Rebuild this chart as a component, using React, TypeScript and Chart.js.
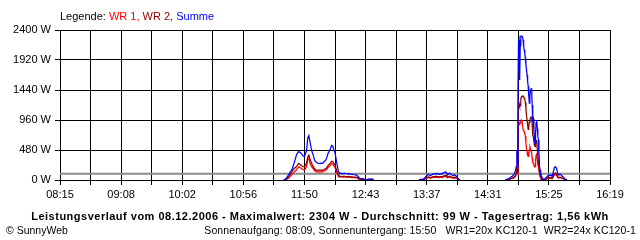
import React, { useEffect, useRef } from "react";
import { Chart, registerables } from "chart.js";

Chart.register(...registerables);

const FONT = '"Liberation Sans", Arial, sans-serif';

// x-axis tick labels (every second grid line carries a label)
const xTickLabels = ["08:15", "09:08", "10:02", "10:56", "11:50", "12:43", "13:37", "14:31", "15:25", "16:19"];
// y-axis ticks in W
const yTickValues = [0, 480, 960, 1440, 1920, 2400];
// daily average (Durchschnitt)
const average = 99;

// sample times
const times: string[] = [
  // morning hump
  "11:32", "11:33", "11:34", "11:35", "11:36", "11:37", "11:38", "11:39", "11:40", "11:41",
  "11:42", "11:43", "11:44", "11:45", "11:46", "11:47", "11:48", "11:49", "11:50", "11:51",
  "11:52", "11:53", "11:54", "11:55", "11:56", "11:57", "11:58", "11:59", "12:00", "12:01",
  "12:02", "12:03", "12:04", "12:05", "12:06", "12:07", "12:08", "12:09", "12:10", "12:11",
  "12:12", "12:13", "12:14", "12:15", "12:16", "12:17", "12:18", "12:19", "12:20", "12:21",
  "12:22", "12:23", "12:24", "12:25", "12:26", "12:27", "12:28", "12:29", "12:30", "12:31",
  "12:32", "12:33", "12:34", "12:35", "12:36", "12:37", "12:38", "12:39", "12:40", "12:41",
  "12:42", "12:43", "12:44", "12:45", "12:46", "12:47", "12:48", "12:49", "12:50", "12:51",
  "13:00",
  // early afternoon
  "13:31", "13:32", "13:33", "13:34", "13:35", "13:36", "13:37", "13:38", "13:39", "13:40",
  "13:41", "13:42", "13:43", "13:44", "13:45", "13:46", "13:47", "13:48", "13:49", "13:50",
  "13:51", "13:52", "13:53", "13:54", "13:55", "13:56", "13:57", "13:58", "13:59", "14:00",
  "14:01", "14:02", "14:03", "14:04", "14:05", "14:06", "14:07",
  "14:20",
  // afternoon peak
  "14:47", "14:48", "14:49", "14:50", "14:51", "14:52", "14:53", "14:54", "14:55",
  "14:56:00", "14:56:30", "14:57:00", "14:57:30", "14:58:00", "14:58:30", "14:59:00", "14:59:30",
  "15:00:00", "15:00:30", "15:01:00", "15:01:30", "15:02:00", "15:02:30", "15:03:00", "15:03:30",
  "15:04:00", "15:04:30", "15:05:00", "15:05:30", "15:06:00", "15:06:30", "15:07:00", "15:07:30",
  "15:08:00", "15:08:30", "15:09:00", "15:09:30", "15:10:00", "15:10:30", "15:11:00", "15:11:30",
  "15:12:00", "15:12:30", "15:13:00", "15:13:30", "15:14:00", "15:14:30", "15:15:00", "15:15:30",
  "15:16:00", "15:16:30", "15:17:00", "15:17:30", "15:18:00", "15:18:30", "15:19:00",
  "15:20", "15:21", "15:22", "15:23", "15:24", "15:25", "15:26", "15:27", "15:28", "15:29",
  "15:30", "15:31", "15:32", "15:33", "15:34", "15:35", "15:36", "15:37", "15:38", "15:39",
  "15:40", "15:41",
];

// WR 1 (W)
const wr1: (number | null)[] = [
  0, 0, 5, 15, 27, 45, 65, 85, 105, 125,
  145, 160, 185, 210, 200, 190, 175, 165, 160, 180,
  220, 330, 350, 270, 230, 200, 180, 150, 135, 130,
  135, 130, 125, 135, 130, 140, 150, 160, 180, 205,
  220, 240, 265, 260, 225, 200, 150, 95, 55, 45,
  50, 48, 45, 50, 48, 45, 44, 46, 44, 42,
  40, 40, 38, 36, 34, 25, 15, 10, 8, 10,
  8, 5, 0, 0, 5, 5, 5, 5, 5, 0,
  null,
  0, 5, 5, 5, 8, 15, 25, 30, 40, 35,
  30, 35, 40, 45, 40, 45, 40, 45, 40, 45,
  40, 50, 55, 60, 55, 35, 40, 50, 40, 35,
  30, 35, 30, 25, 15, 5, 0,
  null,
  0, 3, 5, 10, 12, 20, 25, 30, 45,
  60, 90, 150, 110, 600, 940, 920, 900,
  910, 940, 960, 940, 880, 810, 790, 770,
  750, 700, 600, 500, 450, 400, 380, 420,
  480, 530, 500, 460, 430, 350, 280, 267,
  240, 220, 213, 320, 400, 427, 330, 240,
  213, 150, 80, 50, 30, 15, 10,
  5, 5, 10, 15, 20, 30, 25, 30, 20, 45,
  80, 85, 75, 40, 30, 40, 30, 25, 20, 8,
  3, 0,
];

// WR 2 (W)
const wr2: (number | null)[] = [
  0, 5, 15, 30, 50, 70, 107, 130, 160, 180,
  200, 213, 240, 265, 255, 240, 225, 215, 210, 240,
  270, 370, 400, 330, 290, 240, 210, 180, 160, 160,
  155, 160, 155, 160, 155, 165, 175, 185, 205, 235,
  255, 275, 300, 300, 260, 240, 180, 130, 85, 60,
  60, 58, 55, 60, 56, 55, 54, 56, 54, 50,
  50, 48, 46, 46, 44, 35, 25, 15, 12, 12,
  10, 8, 0, 0, 8, 10, 8, 10, 8, 0,
  null,
  0, 5, 5, 8, 10, 20, 30, 40, 50, 45,
  40, 45, 50, 55, 55, 60, 55, 55, 50, 55,
  55, 60, 65, 70, 70, 45, 55, 60, 50, 45,
  40, 45, 40, 30, 20, 5, 0,
  null,
  0, 5, 8, 12, 18, 25, 30, 40, 55,
  80, 110, 200, 140, 800, 1260, 1220, 1180,
  1190, 1290, 1330, 1340, 1340, 1345, 1330, 1310,
  1290, 1240, 1150, 1040, 960, 880, 810, 850,
  920, 960, 990, 1010, 1013, 900, 720, 693,
  620, 560, 533, 580, 620, 640, 500, 380,
  320, 220, 140, 100, 60, 35, 20,
  10, 8, 12, 20, 30, 40, 35, 40, 30, 60,
  100, 110, 95, 50, 40, 45, 40, 30, 25, 10,
  5, 0,
];

// Summe (W)
const summe: (number | null)[] = [
  0, 10, 25, 50, 80, 110, 140, 165, 215, 270,
  330, 395, 430, 455, 445, 430, 405, 385, 375, 420,
  470, 670, 710, 610, 510, 440, 390, 320, 290, 280,
  270, 265, 262, 270, 268, 285, 305, 320, 370, 430,
  460, 500, 555, 545, 480, 440, 330, 230, 140, 105,
  110, 105, 100, 110, 104, 100, 96, 102, 98, 92,
  90, 88, 84, 82, 78, 60, 40, 25, 20, 22,
  18, 12, 0, 0, 15, 15, 14, 16, 14, 0,
  null,
  0, 10, 10, 12, 18, 35, 55, 70, 90, 80,
  70, 80, 90, 100, 95, 105, 95, 100, 90, 100,
  95, 110, 120, 130, 125, 80, 95, 110, 90, 80,
  70, 80, 70, 55, 35, 10, 0,
  null,
  0, 10, 15, 25, 35, 50, 60, 80, 107,
  160, 213, 480, 260, 1400, 2200, 2240, 1600,
  2150, 2300, 2304, 2300, 2290, 2240, 2150, 2080,
  2030, 1950, 1850, 1770, 1680, 1580, 1500, 1350,
  1230, 1350, 1420, 1460, 1470, 1200, 960, 980,
  820, 650, 587, 760, 920, 960, 820, 700,
  640, 420, 220, 160, 100, 60, 40,
  20, 15, 25, 40, 60, 80, 70, 80, 60, 120,
  200, 213, 187, 100, 80, 96, 80, 60, 50, 20,
  10, 0,
];

const toMin = (s: string): number => {
  const [h, m, sec] = s.split(":").map(Number);
  return h * 60 + m + (sec || 0) / 60;
};

export default function App() {
  const ref = useRef<HTMLCanvasElement>(null);

  useEffect(() => {
    if (!ref.current) return;
    const xMin = toMin(xTickLabels[0]);
    const xMax = toMin(xTickLabels[xTickLabels.length - 1]);
    const gridCount = (xTickLabels.length - 1) * 2;
    const gridValues = Array.from({ length: gridCount + 1 }, (_, i) => xMin + ((xMax - xMin) * i) / gridCount);
    const pts = (arr: (number | null)[]) => times.map((t, i) => ({ x: toMin(t), y: arr[i] }));

    const chart = new Chart(ref.current, {
      type: "line",
      data: {
        datasets: [
          { label: "Summe", data: pts(summe) as any, borderColor: "#0000ff", order: 0 },
          { label: "WR 2", data: pts(wr2) as any, borderColor: "#8c0000", order: 1 },
          { label: "WR 1", data: pts(wr1) as any, borderColor: "#ff0000", order: 2 },
          {
            label: "Durchschnitt",
            data: [{ x: xMin, y: average }, { x: xMax, y: average }],
            borderColor: "#8c8c8c",
            borderWidth: 2,
            order: 3,
          },
        ],
      },
      options: {
        responsive: false,
        animation: false,
        devicePixelRatio: 1,
        spanGaps: false,
        parsing: false as any,
        elements: {
          line: { borderWidth: 1.25, tension: 0, fill: false },
          point: { radius: 0, hoverRadius: 0 },
        },
        layout: { padding: { top: 30, right: 30, bottom: 0, left: 0 } },
        plugins: { legend: { display: false }, tooltip: { enabled: false }, title: { display: false } },
        scales: {
          x: {
            type: "linear",
            min: xMin,
            max: xMax,
            afterBuildTicks: (scale: any) => {
              scale.ticks = gridValues.map((v) => ({ value: v }));
            },
            afterFit: (scale: any) => {
              scale.height = 60;
            },
            ticks: {
              autoSkip: false,
              maxRotation: 0,
              minRotation: 0,
              padding: 3,
              color: "#000",
              font: { family: FONT, size: 11 },
              callback: (_v: any, i: number) => (i % 2 === 0 ? xTickLabels[i / 2] : ""),
            },
            grid: { color: "#000", lineWidth: 1, drawTicks: true, tickLength: 5, tickColor: "#000" },
            border: { display: true, color: "#000", width: 1 },
          },
          y: {
            type: "linear",
            min: 0,
            max: 2400,
            afterBuildTicks: (scale: any) => {
              scale.ticks = yTickValues.map((v) => ({ value: v }));
            },
            afterFit: (scale: any) => {
              scale.width = 60;
            },
            ticks: {
              padding: 4,
              color: "#000",
              font: { family: FONT, size: 11 },
              callback: (v: any) => `${v} W`,
            },
            grid: { color: "#000", lineWidth: 1, drawTicks: true, tickLength: 5, tickColor: "#000" },
            border: { display: true, color: "#000", width: 1 },
          },
        },
      },
    });
    return () => chart.destroy();
  }, []);

  const base: React.CSSProperties = {
    position: "absolute",
    fontFamily: FONT,
    whiteSpace: "pre",
    margin: 0,
    color: "#000",
  };

  return (
    <div style={{ position: "fixed", left: 0, top: 0, width: 640, height: 240, background: "#fff", overflow: "hidden" }}>
      <canvas ref={ref} width={640} height={240} style={{ position: "absolute", left: 0, top: 0, width: 640, height: 240 }} />
      <div style={{ ...base, left: 60, top: 11, fontSize: 11, lineHeight: "11px" }}>
        <span>Legende: </span>
        <span style={{ color: "#ff0000" }}>WR 1, </span>
        <span style={{ color: "#8c0000" }}>WR 2, </span>
        <span style={{ color: "#0000ff" }}>Summe</span>
      </div>
      <div
        style={{
          ...base,
          left: 0,
          width: 640,
          textAlign: "center",
          top: 211,
          fontSize: 11,
          lineHeight: "11px",
          fontWeight: "bold",
          letterSpacing: "0.5px",
        }}
      >
        Leistungsverlauf vom 08.12.2006 - Maximalwert: 2304 W - Durchschnitt: 99 W - Tagesertrag: 1,56 kWh
      </div>
      <div style={{ ...base, left: 6, top: 225, fontSize: 10.5, lineHeight: "10.5px" }}>© SunnyWeb</div>
      <div
        style={{
          ...base,
          right: 4,
          top: 225,
          fontSize: 10.5,
          lineHeight: "10.5px",
          textAlign: "right",
          letterSpacing: "0.1px",
        }}
      >
        Sonnenaufgang: 08:09, Sonnenuntergang: 15:50   WR1=20x KC120-1  WR2=24x KC120-1
      </div>
    </div>
  );
}
